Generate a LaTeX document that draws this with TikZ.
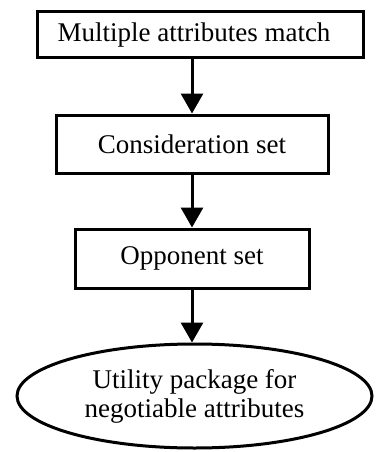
\documentclass[tikz,border=0pt]{standalone}
\usepackage{fontspec}
\setmainfont{Liberation Serif}
\usetikzlibrary{shapes.geometric,arrows.meta}
\begin{document}
\begin{tikzpicture}[x=1pt,y=-1pt,
        box/.style={draw,line width=3pt,inner sep=0pt,font=\fontsize{27}{30}\selectfont},
        goal/.style={draw,ellipse,line width=3pt,inner sep=0pt,align=center,font=\fontsize{27}{29}\selectfont},
        flow/.style={line width=3pt,-{Triangle[width=22pt,length=20pt]}}]
        \useasboundingbox (0,0) rectangle (375,452);
        \node[box,minimum height=46pt,text width=285pt,inner xsep=20.5pt,align=flush left] (match) at (200,35) {Multiple attributes match};
        \node[box,minimum width=272pt,minimum height=58pt] (consider) at (192,144) {Consideration set};
        \node[box,minimum width=234pt,minimum height=59pt] (opponent) at (192,258.5) {Opponent set};
        \node[goal,minimum width=355pt,minimum height=104pt] (utility) at (194.5,396) {Utility package for\\negotiable attributes};
        \draw[flow] (match.south -| 192,0) -- (consider.north -| 192,0);
        \draw[flow] (consider.south) -- (opponent.north);
        \draw[flow] (opponent.south) -- (utility.north -| 192,0);
    \end{tikzpicture}
\end{document}
